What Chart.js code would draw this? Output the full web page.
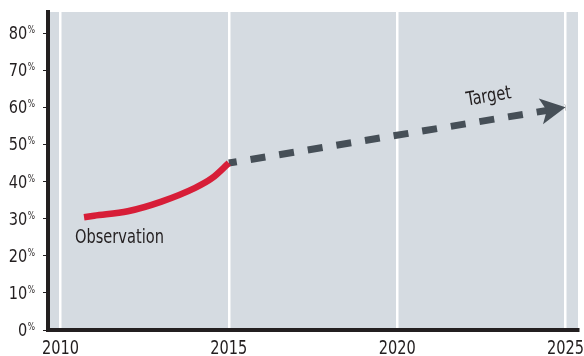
<!DOCTYPE html>
<html>
<head>
<meta charset="utf-8">
<script src="https://cdn.jsdelivr.net/npm/chart.js@4.4.1/dist/chart.umd.min.js"></script>
<style>
  body { margin: 0; background: #ffffff; }
  canvas { display: block; }
</style>
</head>
<body>
<canvas id="chart" width="584" height="356"></canvas>
<script>
// observed share (red line)
const obsYears = [2010.7, 2011, 2012, 2013, 2014, 2014.5, 2015];
const obsValues = [30.4, 30.8, 32.0, 34.6, 38.3, 40.9, 45.0];

// target path (dashed arrow)
const targetYears = [2015, 2025];
const targetValues = [45, 60];

const xTicks = [2010, 2015, 2020, 2025];
const yTicks = [0, 10, 20, 30, 40, 50, 60, 70, 80];

const FONT = "'DejaVu Sans Condensed', 'DejaVu Sans', sans-serif";
const INK = '#231f20';
const RED = '#d71e38';
const SLATE = '#464f57';
const PANEL = '#d5dbe1';

// the original uses a condensed face, so squeeze text horizontally
function squeezeText(ctx, txt, x, y, size, align, base, sx) {
    ctx.save();
    ctx.font = size + 'px ' + FONT;
    ctx.textAlign = align;
    ctx.textBaseline = base;
    ctx.translate(x, y);
    ctx.scale(sx, 1);
    ctx.fillText(txt, 0, 0);
    ctx.restore();
}

// gray panel behind the plot
const panelBg = {
    id: 'panelBg',
    beforeDraw(chart) {
        const { ctx, chartArea: a } = chart;
        ctx.save();
        ctx.fillStyle = PANEL;
        ctx.fillRect(a.left, a.top, a.right - a.left, a.bottom - a.top);
        ctx.restore();
    }
};

// axis labels: y with the small raised "%", x years below the axis
const axisLabels = {
    id: 'axisLabels',
    afterDraw(chart) {
        const { ctx } = chart;
        const y = chart.scales.y, x = chart.scales.x;
        const right = 35;
        ctx.save();
        ctx.fillStyle = INK;
        ctx.font = '10px ' + FONT;
        const pw = ctx.measureText('%').width * 0.85;
        y.ticks.forEach(t => {
            const py = y.getPixelForValue(t.value);
            squeezeText(ctx, '%', right - pw, py, 10, 'left', 'alphabetic', 0.85);
            squeezeText(ctx, String(t.value), right - pw - 0.5, py + 6, 17, 'right', 'alphabetic', 0.95);
        });
        x.ticks.forEach(t => {
            const px = x.getPixelForValue(t.value);
            squeezeText(ctx, String(t.value), px, 354, 20, 'center', 'alphabetic', 0.81);
        });
        ctx.restore();
    }
};

// arrow head at the end of the target line + the two text labels
const notes = {
    id: 'notes',
    afterDatasetsDraw(chart) {
        const { ctx } = chart;
        const xs = chart.scales.x, ys = chart.scales.y;
        const pts = chart.getDatasetMeta(1).data;
        const p0 = pts[pts.length - 2], p1 = pts[pts.length - 1];
        const ang = Math.atan2(p1.y - p0.y, p1.x - p0.x);

        ctx.save();
        ctx.translate(p1.x, p1.y);
        ctx.rotate(ang);
        ctx.fillStyle = SLATE;
        ctx.beginPath();
        ctx.moveTo(0, 0);
        ctx.lineTo(-25, -13);
        ctx.lineTo(-19, 0);
        ctx.lineTo(-25, 13);
        ctx.closePath();
        ctx.fill();
        ctx.restore();

        ctx.save();
        ctx.fillStyle = INK;
        squeezeText(ctx, 'Observation', xs.getPixelForValue(2010.43), ys.getPixelForValue(23.4), 19, 'left', 'alphabetic', 0.855);

        ctx.translate(xs.getPixelForValue(2022.72), ys.getPixelForValue(62.8));
        ctx.rotate(ang);
        squeezeText(ctx, 'Target', 0, 0, 19, 'center', 'middle', 0.86);
        ctx.restore();
    }
};

new Chart(document.getElementById('chart'), {
    type: 'line',
    data: {
        datasets: [
            {
                label: 'Observation',
                data: obsYears.map((x, i) => ({ x: x, y: obsValues[i] })),
                borderColor: RED,
                borderWidth: 6.5,
                cubicInterpolationMode: 'monotone',
                pointRadius: 0,
                fill: false
            },
            {
                label: 'Target',
                data: targetYears.map((x, i) => ({ x: x, y: targetValues[i] })),
                borderColor: SLATE,
                borderWidth: 7,
                borderDash: [15, 14],
                borderDashOffset: 7,
                pointRadius: 0,
                fill: false
            }
        ]
    },
    options: {
        responsive: false,
        animation: false,
        layout: { padding: { top: 12, right: 6, left: 0, bottom: 0 } },
        plugins: {
            legend: { display: false },
            tooltip: { enabled: false }
        },
        scales: {
            x: {
                type: 'linear',
                min: 2009.63,
                max: 2025.37,
                afterBuildTicks: s => { s.ticks = xTicks.map(v => ({ value: v })); },
                afterFit: s => { s.height = 26; },
                grid: { color: '#ffffff', lineWidth: 2.5, drawTicks: false },
                border: { color: INK, width: 4 },
                ticks: { display: false }
            },
            y: {
                min: 0,
                max: 85.7,
                afterBuildTicks: s => { s.ticks = yTicks.map(v => ({ value: v })); },
                afterFit: s => { s.width = 48; },
                grid: { drawOnChartArea: false, drawTicks: true, tickLength: 5, color: INK, lineWidth: 1 },
                border: { color: INK, width: 4 },
                ticks: { display: false }
            }
        }
    },
    plugins: [panelBg, axisLabels, notes]
});
</script>
</body>
</html>
